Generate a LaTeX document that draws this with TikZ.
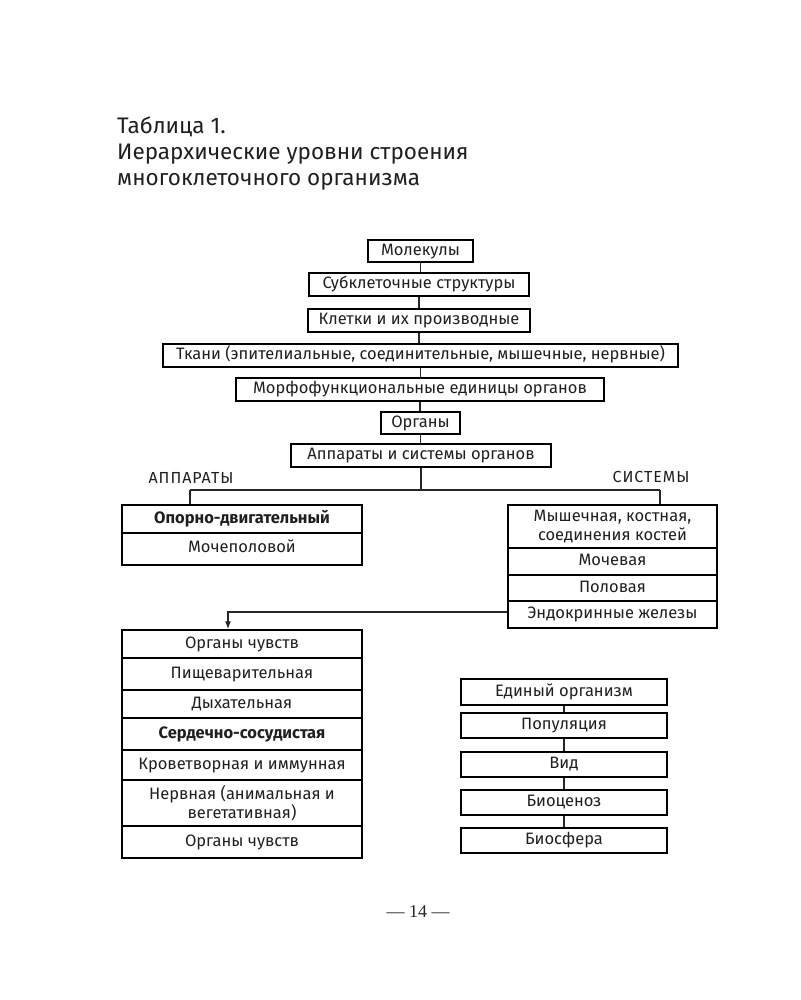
\documentclass[tikz,border=0pt]{standalone}
\usepackage{fontspec}
\setmainfont{Fira Sans}
\newfontfamily\pagefont{Liberation Serif}
\newfontfamily\capsfont[LetterSpace=6]{Fira Sans}
\usetikzlibrary{arrows.meta}
\newcommand{\bx}[6]{\node[box, minimum width={(#4)-(#2)}, minimum height={(#5)-(#3)}] (#1) at ({((#2)+(#4))/2},{((#3)+(#5))/2}) {#6};}
\newcommand{\bxx}[6]{\node[boxtwo, minimum width={(#4)-(#2)}, minimum height={(#5)-(#3)}] (#1) at ({((#2)+(#4))/2},{((#3)+(#5))/2}) {#6};}
\begin{document}
\begin{tikzpicture}[x=1pt,y=-1pt,
  boxtwo/.style={draw, line width=1.4pt, inner sep=0pt, align=center, font=\fontsize{16.5}{19}\selectfont, text=black!88},
  box/.style={boxtwo, text height=11.5pt, text depth=3.5pt},
  conn/.style={line width=1.4pt, draw=black!85},
  lbl/.style={inner sep=0pt, font=\capsfont\fontsize{16}{18}\selectfont, text=black!88},
  title/.style={inner sep=0pt, align=left, anchor=north west, font=\fontsize{22.5}{26}\selectfont, text=black!88}]
\useasboundingbox (0,0) rectangle (800,1000);
\node[title] (t) at (117,116) {Таблица 1.\\Иерархические уровни строения\\многоклеточного организма};
% top chain
\bx{m1}{368}{240}{473}{262}{Молекулы}
\bx{m2}{309}{273}{529}{296}{Субклеточные структуры}
\bx{m3}{308}{309}{530}{332}{Клетки и их производные}
\bx{m4}{163}{344}{678}{367}{Ткани (эпителиальные, соединительные, мышечные, нервные)}
\bx{m5}{236}{378}{604}{401}{Морфофункциональные единицы органов}
\bx{m6}{381}{412}{460}{434}{Органы}
\bx{m7}{291}{444}{551}{467}{Аппараты и системы органов}
\foreach \a/\b in {m1/m2,m2/m3,m3/m4,m4/m5,m5/m6,m6/m7}
  \draw[conn] (\a.south) -- (\a.south |- \b.north);
\node[lbl] (la) at (191,478) {АППАРАТЫ};
\node[lbl] (ls) at (651,477) {СИСТЕМЫ};
% left apparatus
\bx{a1}{122}{505}{362}{533}{\textbf{Опорно-двигательный}}
\bx{a2}{122}{533}{362}{565}{}
\node[inner sep=0pt, font=\fontsize{16.5}{19}\selectfont, text=black!88] (a2t) at (242,546) {Мочеполовой};
% right systems
\bxx{s1}{508}{505}{717}{548}{Мышечная, костная,\\соединения костей}
\bx{s2}{508}{548}{717}{575}{Мочевая}
\bx{s3}{508}{575}{717}{601}{Половая}
\bx{s4}{508}{601}{717}{628}{Эндокринные железы}
\coordinate (bl) at (190,490);
\coordinate (br) at (660,490);
\draw[conn] (m7.south) -- (m7.south |- bl);
\draw[conn] (bl) -- (br);
\draw[conn] (bl) -- (bl |- a1.north);
\draw[conn] (br) -- (br |- s1.north);
% left stack
\bx{o1}{122}{630}{362}{658}{Органы чувств}
\bx{o2}{122}{658}{362}{690}{Пищеварительная}
\bx{o3}{122}{690}{362}{718}{Дыхательная}
\bx{o4}{122}{718}{362}{750}{\textbf{Сердечно-сосудистая}}
\bx{o5}{122}{750}{362}{780}{Кроветворная и иммунная}
\bxx{o6}{122}{780}{362}{826}{Нервная (анимальная и\\вегетативная)}
\bx{o7}{122}{826}{362}{858}{Органы чувств}
\coordinate (ak) at (228,612);
\draw[conn, -{Latex[length=8pt,width=6pt]}] (s4.west |- ak) -- (ak) -- (ak |- o1.north);
% right chain
\bx{b1}{461}{679}{667}{705}{Единый организм}
\bx{b2}{461}{713}{667}{738}{Популяция}
\bx{b3}{461}{752}{667}{777}{Вид}
\bx{b4}{461}{790}{667}{815}{Биоценоз}
\bx{b5}{461}{828}{667}{853}{Биосфера}
\foreach \a/\b in {b1/b2,b2/b3,b3/b4,b4/b5}
  \draw[conn] (\a.south) -- (\b.north);
\node[inner sep=0pt, font=\pagefont\fontsize{18}{20}\selectfont, text=black!85] (pg) at (418,912) {— 14 —};
\end{tikzpicture}
\end{document}
